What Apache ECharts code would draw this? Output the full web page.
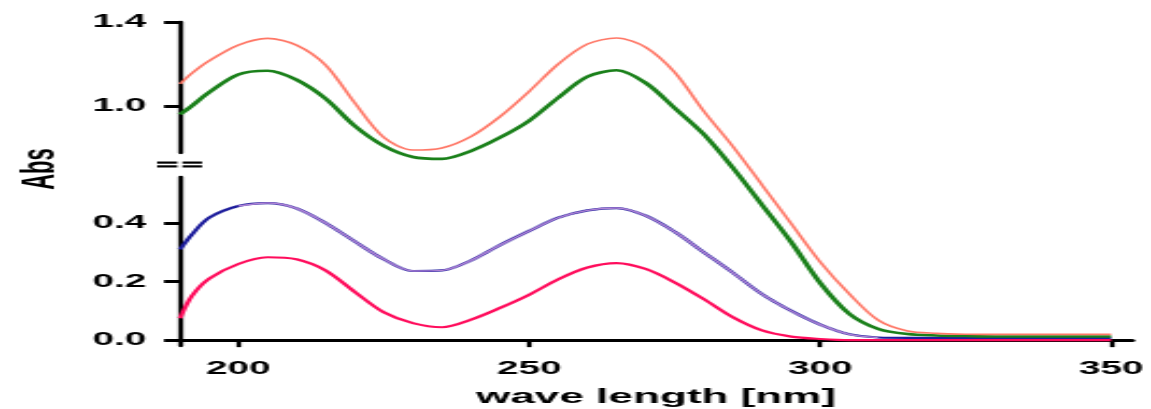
<!DOCTYPE html>
<html>
<head>
<meta charset="utf-8">
<script src="https://cdn.jsdelivr.net/npm/echarts@6/dist/echarts.min.js"></script>
<style>
  html, body { margin: 0; padding: 0; background: #fff; overflow: hidden; }
  /* the original figure is stretched sideways, so draw narrow and stretch the same way */
  #chart { width: 535px; height: 409px; transform: scaleX(2.1514); transform-origin: 0 0; }
</style>
</head>
<body>
<div id="chart"></div>
<script>
// wavelengths [nm]
var wl = [190, 192, 195, 200, 205, 210, 215, 220, 225, 230, 235, 240, 245, 250, 255, 260, 265,
  270, 275, 280, 285, 290, 295, 300, 305, 310, 315, 320, 325, 330, 335, 340, 345, 350]

// upper traces (read on the upper axis)
var salmonAbs = [1.105, 1.155, 1.215, 1.29, 1.322, 1.29, 1.195, 1.015, 0.85, 0.79, 0.80, 0.855, 0.95,
  1.07, 1.20, 1.295, 1.324, 1.28, 1.16, 0.975, 0.807, 0.624, 0.44, 0.257, 0.105, -0.021, -0.072, -0.083,
  -0.087, -0.088, -0.088, -0.088, -0.088, -0.088]
var greenAbs = [0.96, 1.0, 1.065, 1.15, 1.168, 1.125, 1.035, 0.905, 0.81, 0.757, 0.748, 0.786, 0.85,
  0.93, 1.04, 1.14, 1.17, 1.11, 0.99, 0.865, 0.705, 0.529, 0.352, 0.157, 0.01, -0.062, -0.086, -0.093,
  -0.096, -0.098, -0.098, -0.098, -0.098, -0.098]

// lower traces (read on the lower axis)
var blueAbs = [0.31, 0.36, 0.418, 0.458, 0.468, 0.45, 0.40, 0.337, 0.276, 0.236, 0.238, 0.272, 0.325,
  0.373, 0.418, 0.443, 0.451, 0.425, 0.37, 0.30, 0.23, 0.157, 0.10, 0.053, 0.02, 0.009, 0.008, 0.008,
  0.008, 0.008, 0.008, 0.008, 0.008, 0.008]
var lavenderAbs = [null, null, null, 0.458, 0.468, 0.45, 0.40, 0.337, 0.276, 0.236, 0.238, 0.272, 0.325,
  0.373, 0.418, 0.443, 0.451, 0.425, 0.37, 0.30, 0.23, 0.157, 0.10, 0.053, 0.02, 0.009, null, null,
  null, null, null, null, null, null]
var magentaAbs = [0.075, 0.15, 0.21, 0.26, 0.283, 0.276, 0.238, 0.165, 0.095, 0.058, 0.044, 0.07, 0.11,
  0.155, 0.208, 0.248, 0.263, 0.243, 0.197, 0.14, 0.078, 0.033, 0.012, 0.004, 0, 0, 0, 0, 0, 0, 0, 0, 0, 0]

// tick labels
var xTicks = [200, 250, 300, 350]
var yTicksLow = [0, 0.2, 0.4]
var yTicksHigh = [1.0, 1.4]

var chart = echarts.init(document.getElementById('chart'))

var font = 'Liberation Sans, Arial, sans-serif'
var gridL = 83.7
var gridW = 442.5

// broken y axis: upper part, a holder for the axis name, lower part
var grids = [
  {left: gridL, width: gridW, top: 22, height: 131},
  {left: gridL, width: gridW, top: 153, height: 32},
  {left: gridL, width: gridW, top: 177, height: 169}
]

var xAxes = grids.map(function (g, i) {
  var ax = {type: 'value', gridIndex: i, min: 190, max: 353.6, show: i === 2}
  if (i === 2) {
    ax.axisLine = {lineStyle: {color: '#000', width: 3}}
    ax.axisTick = {length: 7, lineStyle: {color: '#000', width: 2.2}, customValues: xTicks}
    ax.axisLabel = {
      customValues: xTicks, margin: 14, color: '#000', fontFamily: font, fontWeight: 'bold', fontSize: 18
    }
    ax.splitLine = {show: false}
    ax.name = 'wave length [nm]'
    ax.nameLocation = 'middle'
    ax.nameGap = 41
    ax.nameTextStyle = {color: '#000', fontFamily: font, fontWeight: 'bold', fontSize: 20.5}
  }
  return ax
})

function yAxisFor(i, min, max, ticks) {
  return {
    type: 'value',
    gridIndex: i,
    min: min,
    max: max,
    axisLine: {show: true, lineStyle: {color: '#000', width: 2.3}},
    axisTick: {show: true, length: 7.5, lineStyle: {color: '#000', width: 3}, customValues: ticks},
    axisLabel: {
      customValues: ticks, margin: 15.8, color: '#000', fontFamily: font, fontWeight: 'bold', fontSize: 18,
      formatter: function (v) { return v.toFixed(1) }
    },
    splitLine: {show: false}
  }
}

var yAxes = [
  yAxisFor(0, 0.776, 1.4, yTicksHigh),
  {
    type: 'value', gridIndex: 1, min: 0, max: 1,
    axisLine: {show: false}, axisTick: {show: false}, axisLabel: {show: false}, splitLine: {show: false},
    name: 'Abs', nameLocation: 'middle', nameRotate: 90, nameGap: 61,
    nameTextStyle: {color: '#000', fontFamily: font, fontWeight: 'bold', fontSize: 22}
  },
  yAxisFor(2, -0.02, 0.557, yTicksLow)
]

var traces = [
  {name: 'blue', vals: blueAbs, color: '#1d1d9c', width: 2.2, grid: 2},
  {name: 'lavender', vals: lavenderAbs, color: '#b084d6', width: 1.4, grid: 2},
  {name: 'magenta', vals: magentaAbs, color: '#ff0c5c', width: 2.2, grid: 2},
  {name: 'green', vals: greenAbs, color: '#1a801a', width: 2.6, grid: 0},
  {name: 'salmon', vals: salmonAbs, color: '#ff7766', width: 1.6, grid: 0}
]

// upper traces run on through the gap and below, so they are not clipped
var series = traces.map(function (t) {
  return {
    name: t.name,
    type: 'line',
    xAxisIndex: t.grid,
    yAxisIndex: t.grid,
    data: wl.map(function (w, k) { return [w, t.vals[k]] }),
    showSymbol: false,
    smooth: 0.3,
    clip: t.grid === 2,
    silent: true,
    lineStyle: {color: t.color, width: t.width}
  }
})

// the "==" break mark on the y axis
var breakMark = []
;[162.6, 166.4].forEach(function (y) {
  breakMark.push({type: 'line', shape: {x1: 73, y1: y, x2: 82.4, y2: y}, style: {stroke: '#000', lineWidth: 2.2}})
  breakMark.push({type: 'line', shape: {x1: 84.8, y1: y, x2: 93.9, y2: y}, style: {stroke: '#000', lineWidth: 2.2}})
})

var option = {
  animation: false,
  backgroundColor: '#fff',
  grid: grids,
  xAxis: xAxes,
  yAxis: yAxes,
  series: series,
  graphic: breakMark
}

chart.setOption(option)
</script>
</body>
</html>
